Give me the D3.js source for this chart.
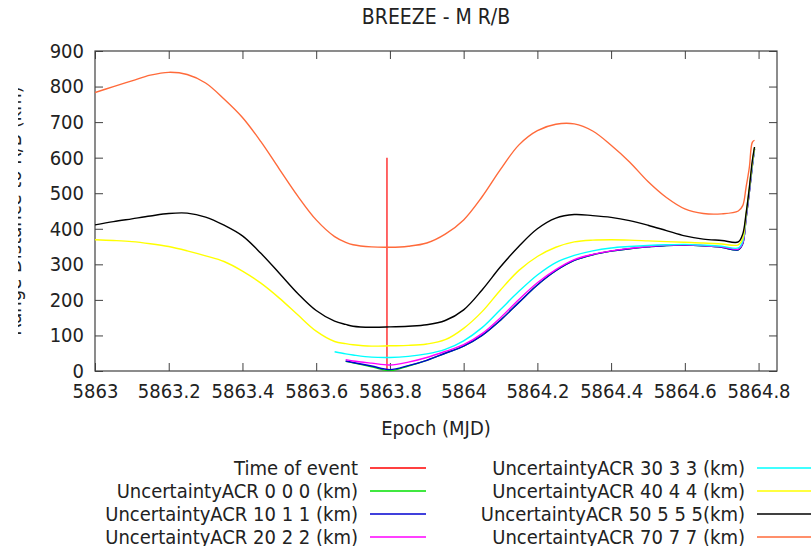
<!DOCTYPE html>
<meta charset="utf-8">
<style>
  body { margin: 0; background: #fff; }
  text { font-family: "DejaVu Sans Condensed", "DejaVu Sans", Verdana, sans-serif; fill: #222; }
  .tick line { stroke: #404040; stroke-width: 1; }
  .frame { fill: none; stroke: #404040; stroke-width: 1.2; }
  .series { fill: none; stroke-width: 1.4; stroke-linejoin: round; }
</style>
<body>
<script src="https://cdnjs.cloudflare.com/ajax/libs/d3/7.8.5/d3.min.js"></script>
<script>
// epochs (MJD) shared by all uncertainty curves
var epochs = [5863.0, 5863.05, 5863.1, 5863.15, 5863.2, 5863.25, 5863.3, 5863.35, 5863.4, 5863.45,
              5863.5, 5863.55, 5863.6, 5863.65, 5863.68, 5863.7, 5863.75, 5863.8, 5863.85, 5863.9,
              5863.95, 5864.0, 5864.05, 5864.1, 5864.15, 5864.2, 5864.25, 5864.3, 5864.35, 5864.4,
              5864.45, 5864.5, 5864.55, 5864.6, 5864.65, 5864.7, 5864.745, 5864.757, 5864.766, 5864.775,
              5864.783, 5864.789];

var acr0 = [null, null, null, null, null, null, null, null, null, null, null, null, null, null,
            27, 23, 12, 1, 14, 30, 50, 70, 100, 143, 193, 242, 282, 311, 327, 337, 344, 349, 353, 354,
            352, 348, 341, 358, 428, 503, 576, 626];
var acr10 = [null, null, null, null, null, null, null, null, null, null, null, null, null, null,
             28, 24, 14, 4, 15, 30, 50, 70, 100, 143, 193, 242, 282, 311, 327, 337, 344, 349, 353, 354,
             352, 348, 341, 358, 428, 503, 576, 624];
var acr20 = [null, null, null, null, null, null, null, null, null, null, null, null, null, null,
             32, 28, 22, 17, 25, 38, 55, 74, 105, 150, 201, 248, 285, 313, 328, 338, 345, 350, 354, 355,
             353, 349, 343, 360, 430, 505, 578, 624];
var acr30 = [null, null, null, null, null, null, null, null, null, null, null, null, null,
             54, 48, 45, 39, 38, 41, 48, 61, 85, 122, 173, 224, 270, 305, 325, 338, 346, 350, 353, 355,
             356, 354, 351, 346, 365, 435, 510, 580, 625];
var acr40 = [369, 367, 364, 358, 350, 338, 324, 308, 281, 247, 205, 158, 112, 83, 77, 74, 70, 71, 72, 76,
             88, 120, 167, 228, 283, 322, 348, 363, 368, 369, 368, 366, 364, 362, 360, 357, 355, 372,
             440, 515, 585, 628];
var acr50 = [411, 420, 428, 436, 443, 444, 433, 410, 380, 331, 275, 218, 170, 140, 131, 126, 123, 124, 126,
             130, 142, 172, 228, 293, 351, 400, 430, 440, 437, 432, 423, 410, 395, 380, 371, 367, 363,
             385, 442, 516, 591, 630];
var acr70 = [783, 800, 816, 832, 840, 834, 810, 765, 713, 645, 568, 492, 425, 378, 362, 355, 349, 348, 351,
             360, 385, 425, 490, 567, 636, 676, 694, 695, 675, 635, 588, 533, 488, 456, 443, 442, 450,
             465, 516, 573, 643, 649];

var eventEpoch = 5863.792;
var eventRange = [0, 600];

var xTicks = [5863, 5863.2, 5863.4, 5863.6, 5863.8, 5864, 5864.2, 5864.4, 5864.6, 5864.8];
var yTicks = [0, 100, 200, 300, 400, 500, 600, 700, 800, 900];

var seriesNames = ["UncertaintyACR 0 0 0 (km)", "UncertaintyACR 10 1 1 (km)", "UncertaintyACR 20 2 2 (km)",
                   "UncertaintyACR 30 3 3 (km)", "UncertaintyACR 40 4 4 (km)", "UncertaintyACR 50 5 5 5(km)",
                   "UncertaintyACR 70 7 7 (km)"];
var seriesValues = [acr0, acr10, acr20, acr30, acr40, acr50, acr70];
var seriesColors = ["#00e000", "#0000d0", "#ff00ff", "#00ffff", "#ffff00", "#000000", "#ff6a3a"];

var width = 811, height = 546;
var margin = {top: 51, right: 34, bottom: 175, left: 95};
var pw = width - margin.left - margin.right,
    ph = height - margin.top - margin.bottom;
var fs = "20px";

var x = d3.scaleLinear().domain([5863, 5864.85]).range([0, pw]);
var y = d3.scaleLinear().domain([0, 900]).range([ph, 0]);

var svg = d3.select("body").append("svg")
    .attr("width", width)
    .attr("height", height);

svg.append("text")
    .attr("x", margin.left + pw / 2)
    .attr("y", 24)
    .attr("text-anchor", "middle")
    .style("font-size", "21px")
    .text("BREEZE - M R/B");

// y label, mostly cut off at the left edge as in the original image
svg.append("clipPath").attr("id", "ylabclip")
  .append("rect").attr("x", 18).attr("y", 0).attr("width", 30).attr("height", height);
svg.append("g")
    .attr("clip-path", "url(#ylabclip)")
  .append("text")
    .attr("transform", "translate(20.5," + (margin.top + ph / 2) + ") rotate(-90)")
    .attr("text-anchor", "middle")
    .style("font-size", fs)
    .text("Range Distance to R/B (km)");

var g = svg.append("g").attr("transform", "translate(" + margin.left + "," + margin.top + ")");

g.append("clipPath").attr("id", "plotclip")
  .append("rect").attr("width", pw).attr("height", ph);

var fmt = function(d) { return String(d); };

var xAxis = g.append("g").attr("transform", "translate(0," + ph + ")")
    .call(d3.axisBottom(x).tickValues(xTicks).tickFormat(fmt).tickSize(-8).tickPadding(13));
var xTop = g.append("g")
    .call(d3.axisTop(x).tickValues(xTicks).tickFormat("").tickSize(-8));
var yAxis = g.append("g")
    .call(d3.axisLeft(y).tickValues(yTicks).tickFormat(fmt).tickSize(-8).tickPadding(11));
var yRight = g.append("g").attr("transform", "translate(" + pw + ",0)")
    .call(d3.axisRight(y).tickValues(yTicks).tickFormat("").tickSize(-8));

[xAxis, xTop, yAxis, yRight].forEach(function(a) {
  a.select(".domain").remove();
  a.selectAll("text").style("font-size", fs).attr("fill", "#222");
});

g.append("rect").attr("class", "frame").attr("width", pw).attr("height", ph);

svg.append("text")
    .attr("x", margin.left + pw / 2)
    .attr("y", 435)
    .attr("text-anchor", "middle")
    .style("font-size", fs)
    .text("Epoch (MJD)");

// curves
var line = d3.line()
    .defined(function(d) { return d[1] != null; })
    .x(function(d) { return x(d[0]); })
    .y(function(d) { return y(d[1]); })
    .curve(d3.curveCatmullRom.alpha(0.5));

var plot = g.append("g").attr("clip-path", "url(#plotclip)");

plot.append("line")
    .attr("x1", x(eventEpoch)).attr("x2", x(eventEpoch))
    .attr("y1", y(eventRange[0])).attr("y2", y(eventRange[1]))
    .attr("stroke", "#ff0000").attr("stroke-width", 1.2);

seriesValues.forEach(function(vals, i) {
  plot.append("path")
      .datum(epochs.map(function(e, j) { return [e, vals[j]]; }))
      .attr("class", "series")
      .attr("stroke", seriesColors[i])
      .attr("d", line);
});

// key
var keyNames = ["Time of event"].concat(seriesNames);
var keyColors = ["#ff0000"].concat(seriesColors);
var keyRows = [468, 491, 514, 537];
var keyCols = [{textX: 358, x1: 370, x2: 426}, {textX: 745, x1: 757, x2: 813}];

keyNames.forEach(function(name, i) {
  var col = keyCols[Math.floor(i / 4)], ry = keyRows[i % 4];
  svg.append("text")
      .attr("x", col.textX).attr("y", ry + 7)
      .attr("text-anchor", "end")
      .style("font-size", fs)
      .text(name);
  svg.append("line")
      .attr("x1", col.x1).attr("x2", col.x2)
      .attr("y1", ry).attr("y2", ry)
      .attr("stroke", keyColors[i]).attr("stroke-width", 1.4);
});
</script>
</body>
</html>
